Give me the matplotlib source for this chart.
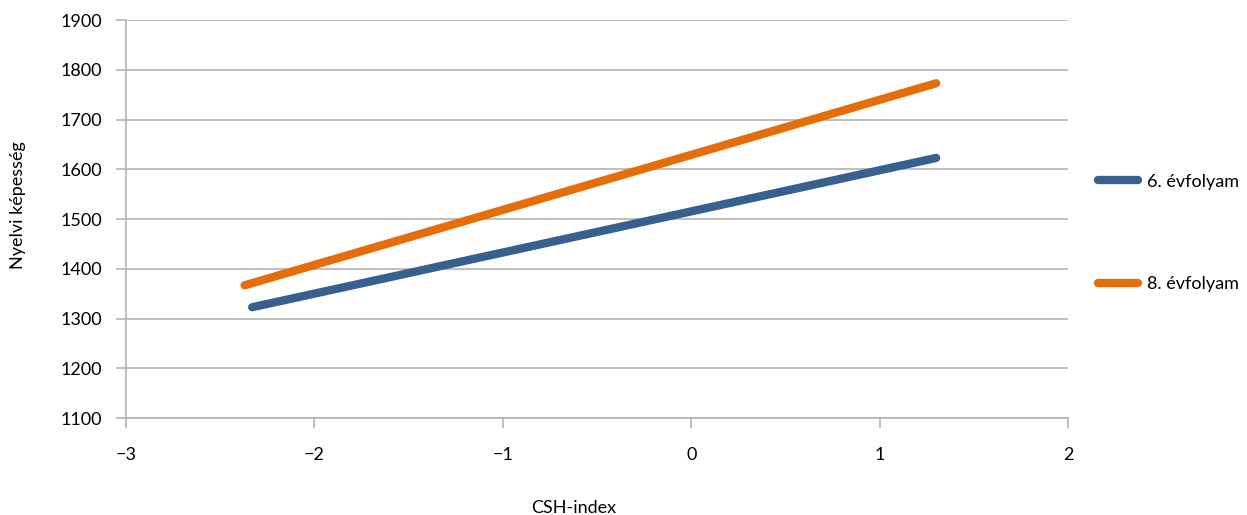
import matplotlib.pyplot as plt

plt.rcParams['font.family'] = ['Lato', 'DejaVu Sans']

# CSH-index endpoints and fitted language ability
x_6 = [-2.33, 1.30]
y_6 = [1323, 1623]
x_8 = [-2.37, 1.30]
y_8 = [1367, 1773]
labels = ['6. évfolyam', '8. évfolyam']

xticks = [-3, -2, -1, 0, 1, 2]
yticks = [1100, 1200, 1300, 1400, 1500, 1600, 1700, 1800, 1900]

blue = '#37608f'
orange = '#e56e0b'
grid = '#b3b3b3'

fig = plt.figure(figsize=(12.47, 5.15), dpi=100)
ax = fig.add_axes([0.101, 0.188, 0.7555, 0.773])

ax.plot(x_6, y_6, color=blue, lw=6, solid_capstyle='round', label=labels[0])
ax.plot(x_8, y_8, color=orange, lw=6, solid_capstyle='round', label=labels[1])

ax.set_xlim(-3, 2)
ax.set_ylim(1100, 1900)
ax.set_xticks(xticks)
ax.set_xticklabels(['\u2212' + str(-t) if t < 0 else str(t) for t in xticks])
ax.set_yticks(yticks)
ax.yaxis.grid(True, color=grid, lw=1.2)
ax.set_axisbelow(True)

for s in ['top', 'right']:
    ax.spines[s].set_visible(False)
for s in ['left', 'bottom']:
    ax.spines[s].set_color(grid)
    ax.spines[s].set_linewidth(1.2)
ax.tick_params(axis='both', direction='out', length=7, width=1.2, color=grid,
               labelsize=13, pad=10)
ax.tick_params(axis='x', pad=14)

ax.set_xlabel('CSH-index', fontsize=13)
ax.xaxis.set_label_coords(0.475, -0.205)
ax.set_ylabel('Nyelvi képesség', fontsize=13)
ax.yaxis.set_label_coords(-0.106, 0.535)

ax.legend(loc='upper left', bbox_to_anchor=(1.015, 0.655), frameon=False,
          fontsize=13, handlelength=2.2, handletextpad=0.5, labelspacing=4.8)

fig.savefig('out.png', dpi=100)
